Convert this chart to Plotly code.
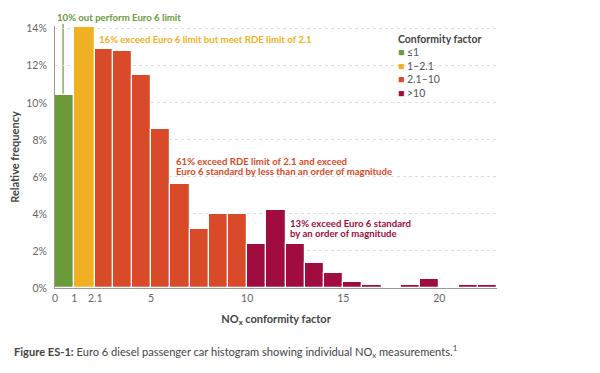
import plotly.graph_objects as go

# ---- data ----
bin_start = [0, 1, 2.1, 3, 4, 5, 6, 7, 8, 9, 10, 11, 12, 13, 14, 15, 16, 18, 19, 21, 22]
bin_end = [1, 2.1, 3, 4, 5, 6, 7, 8, 9, 10, 11, 12, 13, 14, 15, 16, 17, 19, 20, 22, 23]
freq = [10.4, 14.1, 12.9, 12.8, 11.5, 8.6, 5.6, 3.2, 4.0, 4.0,
        2.4, 4.2, 2.4, 1.35, 0.83, 0.34, 0.16, 0.16, 0.5, 0.16, 0.16]
category = ["≤1", "1–2.1"] + ["2.1–10"] * 8 + [">10"] * 11
categories = ["≤1", "1–2.1", "2.1–10", ">10"]
colors = {"≤1": "#6A9A3A", "1–2.1": "#F0B023", "2.1–10": "#D84A28", ">10": "#A00B40"}
tick_vals = [0, 1, 2.1, 5, 10, 15, 20]
tick_text = ["0", "1", "2.1", "5", "10", "15", "20"]
y_ticks = [0, 2, 4, 6, 8, 10, 12, 14]

FONT = "Lato"
# page has an 8px body margin, so the figure is drawn 8px in from top-left
W, H = 592, 365
L, R, T, B = 47, 103, 18, 85
PW, PH = W - L - R, H - T - B


def px(x_page):
    return (x_page - 8 - L) / PW


def py(y_page):
    return (H - B + 8 - y_page) / PH


fig = go.Figure()
for cat in categories:
    idx = [i for i, c in enumerate(category) if c == cat]
    fig.add_trace(go.Bar(
        x=[(bin_start[i] + bin_end[i]) / 2 for i in idx],
        y=[freq[i] for i in idx],
        width=[bin_end[i] - bin_start[i] for i in idx],
        name=cat, showlegend=False,
        marker=dict(color=colors[cat], line=dict(color="white", width=1.2)),
        hoverinfo="skip",
    ))

# leader line for the green annotation
fig.add_shape(type="line", x0=0.42, x1=0.42, y0=freq[0], y1=14.15,
              xref="x", yref="y", line=dict(color="#6A9A3A", width=1.2), layer="below")
fig.add_shape(type="line", x0=px(63), x1=px(63), y0=1.0, y1=py(24),
              xref="paper", yref="paper", line=dict(color="#6A9A3A", width=1.2))

AF = 9.6
notes = [
    (px(55), py(18), "<b>10% out perform Euro 6 limit</b>", colors["≤1"]),
    (px(97), py(40), "<b>16% exceed Euro 6 limit but meet RDE limit of 2.1</b>", colors["1–2.1"]),
    (px(174), py(161), "<b>61% exceed RDE limit of 2.1 and exceed</b>", colors["2.1–10"]),
    (px(174), py(171.5), "<b>Euro 6 standard by less than an order of magnitude</b>", colors["2.1–10"]),
    (px(288), py(223), "<b>13% exceed Euro 6 standard</b>", colors[">10"]),
    (px(288), py(233.5), "<b>by an order of magnitude</b>", colors[">10"]),
]
for x, y, t, c in notes:
    fig.add_annotation(x=x, y=y, xref="paper", yref="paper", text=t, showarrow=False,
                       xanchor="left", yanchor="middle", align="left",
                       font=dict(family=FONT, size=AF, color=c))

# legend drawn as text
fig.add_annotation(x=px(396), y=py(39), xref="paper", yref="paper",
                   text="<b>Conformity factor</b>", showarrow=False,
                   xanchor="left", yanchor="middle",
                   font=dict(family=FONT, size=10.5, color="#444"))
for k, cat in enumerate(categories):
    fig.add_annotation(
        x=px(396), y=py(52 + 13.6 * k), xref="paper", yref="paper",
        text=f"<span style='color:{colors[cat]}'>■</span> {cat}", showarrow=False,
        xanchor="left", yanchor="middle",
        font=dict(family=FONT, size=10.5, color="#555"))

fig.add_annotation(
    x=px(12), y=py(351), xref="paper", yref="paper", xanchor="left", yanchor="middle",
    text="<b>Figure ES-1:</b> Euro 6 diesel passenger car histogram showing individual NO<sub>x</sub> measurements.<sup>1</sup>",
    showarrow=False, font=dict(family=FONT, size=11.1, color="#444"))

fig.update_layout(
    width=W, height=H,
    margin=dict(l=L, r=R, t=T, b=B, autoexpand=False),
    plot_bgcolor="white", paper_bgcolor="white",
    barmode="overlay", bargap=0,
    font=dict(family=FONT, color="#555"),
    showlegend=False,
    xaxis=dict(
        range=[0, 23], tickmode="array", tickvals=tick_vals, ticktext=tick_text,
        showgrid=False, zeroline=False, showline=True, linecolor="#999", linewidth=1,
        ticks="", automargin=False, tickfont=dict(family=FONT, size=10.5, color="#666"),
        title=dict(text="<b>NO<sub>x</sub> conformity factor</b>", standoff=12,
                   font=dict(family=FONT, size=11, color="#444")),
    ),
    yaxis=dict(
        range=[0, 14.15], tickmode="array", tickvals=y_ticks,
        ticktext=[f"{v}%" for v in y_ticks],
        showgrid=True, gridcolor="#DDD", griddash="dot", gridwidth=1,
        zeroline=False, showline=True, linecolor="#999", linewidth=1,
        ticks="", automargin=False, ticklabelstandoff=5,
        tickfont=dict(family=FONT, size=10.5, color="#666"),
        title=dict(text="<b>Relative frequency</b>", standoff=12,
                   font=dict(family=FONT, size=11, color="#444")),
    ),
)

fig.write_html("out.html")
